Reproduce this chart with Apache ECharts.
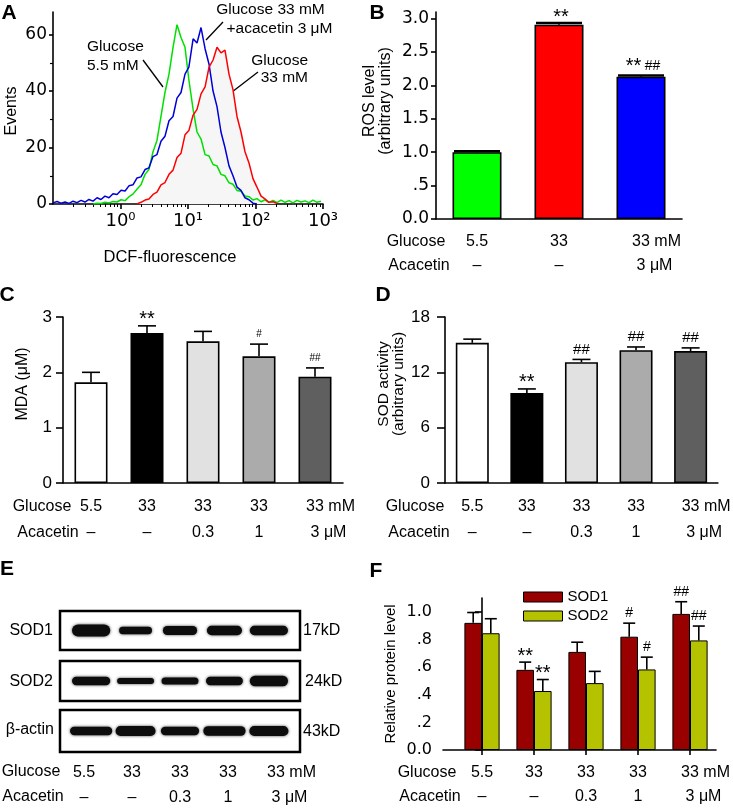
<!DOCTYPE html>
<html>
<head>
<meta charset="utf-8">
<title>Acacetin and high glucose oxidative stress</title>
<script src="https://cdn.jsdelivr.net/npm/echarts@6.0.0/dist/echarts.min.js"></script>
<style>
  html, body { margin: 0; padding: 0; background: #fff; }
  #fig { width: 733px; height: 808px; }
</style>
</head>
<body>
<div id="fig"></div>
<script>
/* ===== A: DCF fluorescence histogram (log channel / events) ===== */
const fluor = [0.1, 0.115, 0.131, 0.151, 0.173, 0.198, 0.227, 0.26, 0.298, 0.341, 0.392, 0.449, 0.514, 0.589,
  0.676, 0.774, 0.887, 1.02, 1.17, 1.34, 1.53, 1.75, 2.01, 2.31, 2.64, 3.03, 3.47, 3.98, 4.56, 5.23, 6.0, 6.87,
  7.88, 9.03, 10.3, 11.9, 13.6, 15.6, 17.9, 20.5, 23.5, 26.9, 30.8, 35.3, 40.5, 46.4, 53.2, 61.0, 69.9, 80.1,
  91.8, 105, 121, 138, 158, 182, 208, 239, 274, 314, 359, 412, 472, 541, 620, 711, 815, 933];
const evGlu55 = [null, null, null, null, null, null, null, null, null, null,
  0, 0.3, 0.2, 0.6, 0.4, 0.9, 0.7, 1.5, 1.2, 2.6, 3.5, 5.2, 6.8, 10.5, 12.2, 18.5, 22.5, 31, 39.5, 46, 55.5,
  63.5, 59, 55.5, 44, 33.5, 25.5, 23, 17.5, 17, 14, 13.5, 10.5, 10, 7.5, 7, 4.8, 4.5, 2.8, 2.6, 1.4, 1.9, 0.8,
  1.5, 0.6, 1.3, 0.5, 1.4, 0.6, 1.2, 0.4, 1.3, 0.7, 1.1, 0.5, 1.4, 0.6, 1.0];
const evAcac = [0.4, 0.9, 0.3, 0.7, 0.2, 1.0, 0.5, 1.3, 0.7, 1.6, 1.0, 2.2, 1.6, 2.8, 2.2, 3.6, 3.4, 4.9, 4.6,
  6.5, 6.8, 9.2, 9.6, 12.2, 12.8, 16.8, 17.5, 22.2, 24, 29.5, 31, 37.5, 39.5, 46, 48.5, 58.5, 57, 62.5, 55,
  49.5, 40, 34.5, 25.5, 20, 13.5, 10, 6, 4.8, 2.2, 1.5, 0.3, 0,
  null, null, null, null, null, null, null, null, null, null, null, null, null, null, null, null];
const evGlu33 = [null, null, null, null, null, null, null, null, null, null, null, null, null, null, null, null,
  null, null, null, null, null,
  0, 0.6, 1.4, 1.8, 3.4, 4.2, 6.8, 7.6, 10.5, 12, 16.5, 18, 24.5, 26, 31.5, 33.5, 39, 41.5, 48.5, 51, 55.5,
  53.5, 54.5, 46, 40.5, 31, 25.5, 18.5, 14.5, 9, 6, 2.8, 1.8, 0.6, 0.8, 0.2,
  null, null, null, null, null, null, null, null, null, null, null];
const decadeTicks = [1, 10, 100, 1000];
const decadeLabels = ['10⁰', '10¹', '10²', '10³'];
const minorTicksA = [0.2, 0.3, 0.4, 0.5, 0.6, 0.7, 0.8, 0.9, 2, 3, 4, 5, 6, 7, 8, 9,
  20, 30, 40, 50, 60, 70, 80, 90, 200, 300, 400, 500, 600, 700, 800, 900];
const eventTicks = [0, 20, 40, 60];
const eventMinor = [10, 30, 50];

/* ===== B: ROS level ===== */
const rosGlucose = ['5.5', '33', '33 mM'];
const rosAcacetin = ['–', '–', '3 μM'];
const ros = [1.0, 2.91, 2.13];
const rosSem = [0.015, 0.025, 0.02];
const rosSig = ['', '**', '** ##'];
const rosTicks = [0, 0.5, 1, 1.5, 2, 2.5, 3];

/* ===== C, D: MDA and SOD activity ===== */
const glucose5 = ['5.5', '33', '33', '33', '33 mM'];
const acacetin5 = ['–', '–', '0.3', '1', '3 μM'];
const mda = [1.82, 2.71, 2.56, 2.29, 1.92];
const mdaSem = [0.18, 0.13, 0.18, 0.22, 0.16];
const mdaSig = ['', '**', '', '#', '##'];
const sodAct = [15.2, 9.75, 13.1, 14.4, 14.3];
const sodActSem = [0.4, 0.45, 0.3, 0.35, 0.35];
const sodActSig = ['', '**', '##', '##', '##'];

/* ===== E: western blot bands (width in lanes, thickness as share of the strip) ===== */
const sod1Width = [0.86, 0.74, 0.77, 0.79, 0.86];
const sod1Thick = [0.31, 0.19, 0.23, 0.24, 0.24];
const sod2Width = [0.86, 0.83, 0.83, 0.83, 0.86];
const sod2Thick = [0.21, 0.15, 0.18, 0.21, 0.26];
const actinWidth = [0.95, 0.9, 0.86, 0.95, 0.88];
const actinThick = [0.2, 0.24, 0.2, 0.23, 0.24];

/* ===== F: relative protein level ===== */
const sod1Rel = [0.92, 0.58, 0.71, 0.82, 0.985];
const sod1Sem = [0.075, 0.056, 0.07, 0.098, 0.088];
const sod1Sig = ['', '**', '', '#', '##'];
const sod2Rel = [0.845, 0.427, 0.484, 0.583, 0.793];
const sod2Sem = [0.105, 0.083, 0.085, 0.089, 0.104];
const sod2Sig = ['', '**', '', '#', '##'];
const relTicks = [0, 0.2, 0.4, 0.6, 0.8, 1.0];
const groupPos = [0, 1, 2, 3, 4];

/* ===== styles ===== */
const FONT = '"Liberation Sans", Arial, sans-serif';
const WIDE = '"DejaVu Sans", sans-serif';
const LINE = { color: '#000', width: 1.6 };
const rosColors = ['#00ff00', '#ff0000', '#0000ff'];
const grays = ['#ffffff', '#000000', '#e1e1e1', '#ababab', '#5f5f5f'];

const chart = echarts.init(document.getElementById('fig'));

const ctx = document.createElement('canvas').getContext('2d');
function textWidth(t, size) {
  ctx.font = size + 'px "Liberation Sans"';
  return ctx.measureText(t).width;
}

// row label: number centred on the tick, unit hanging to the right
function rowLabel(size, margin, pick) {
  return {
    interval: 0, margin, fontSize: size, fontFamily: FONT, color: '#000',
    formatter: (v, i) => {
      const s = pick ? pick(v, i) : String(v);
      const k = s.indexOf(' ');
      if (k < 0) return s;
      const unit = s.slice(k);
      return '{' + (unit.indexOf('μ') >= 0 ? 'u' : 'm') + '|' + s.slice(0, k) + '}' + unit;
    },
    rich: {
      m: { fontSize: size, fontFamily: FONT, color: '#000', padding: [0, 0, 0, textWidth(' mM', size)] },
      u: { fontSize: size, fontFamily: FONT, color: '#000', padding: [0, 0, 0, textWidth(' μM', size)] }
    }
  };
}

function decimalLabel(v) {
  if (v === 0) return '0.0';
  return v < 1 ? String(v).replace(/^0/, '') : v.toFixed(1);
}

function pairs(ys) {
  return fluor.map((f, i) => [f, ys[i]]).filter(p => p[1] !== null);
}

function errorBars(xi, yi, xs, means, sems, sigs, o) {
  return {
    type: 'custom', xAxisIndex: xi, yAxisIndex: yi, z: 5, silent: true,
    data: means.map((m, i) => [xs[i], m, m + sems[i]]),
    renderItem: (params, api) => {
      const base = api.coord([api.value(0), api.value(1)]);
      const top = api.coord([api.value(0), api.value(2)]);
      const x = base[0] + (o.shift || 0);
      const kids = [
        { type: 'line', shape: { x1: x, y1: base[1], x2: x, y2: top[1] }, style: { stroke: '#000', lineWidth: 1.6 } },
        { type: 'line', shape: { x1: x - o.cap / 2, y1: top[1], x2: x + o.cap / 2, y2: top[1] },
          style: { stroke: '#000', lineWidth: o.capLw || 1.6 } }
      ];
      const s = sigs[params.dataIndex];
      if (s) {
        const star = s.indexOf('*') >= 0, hash = s.indexOf('#') >= 0;
        const lift = hash ? (star ? 9 : 10) : 6;
        kids.push({
          type: 'text', x: x + (o.sigShift || 0), y: top[1] - lift,
          style: {
            text: s.replace(/\*+/g, m => '{a|' + m + '}').replace(/#+/g, m => '{h|' + m + '}'),
            rich: { a: { fontSize: 20, fontFamily: FONT, fill: '#000' },
                    h: { fontSize: o.hash, fontFamily: FONT, fill: '#000' } },
            align: 'center', verticalAlign: 'middle', fill: '#000'
          }
        });
      }
      return { type: 'group', children: kids };
    }
  };
}

function blot(xi, yi, widths, thick) {
  return {
    type: 'custom', xAxisIndex: xi, yAxisIndex: yi, silent: true,
    data: widths.map((w, i) => [i, 0.5, w, thick[i]]),
    renderItem: (params, api) => {
      const c = api.coord([api.value(0), api.value(1)]);
      const sz = api.size([api.value(2), api.value(3)]);
      return {
        type: 'rect',
        shape: { x: c[0] - sz[0] / 2, y: c[1] - sz[1] / 2, width: sz[0], height: sz[1], r: sz[1] / 2 },
        style: { fill: '#0d0d0d', shadowBlur: 3, shadowColor: 'rgba(0,0,0,0.75)' }
      };
    }
  };
}

function T(text, x, y, o = {}) {
  return {
    type: 'text', x, y, rotation: o.rot || 0,
    style: {
      text, fontSize: o.size || 16, fontFamily: FONT, fontWeight: o.bold ? 'bold' : 'normal',
      fill: '#000', align: o.align || 'center', verticalAlign: 'middle', lineHeight: o.lh
    }
  };
}
function L(x1, y1, x2, y2) {
  return { type: 'line', shape: { x1, y1, x2, y2 }, style: { stroke: '#000', lineWidth: 1.3 } };
}
const R = Math.PI / 2;
const blotBox = { show: true, borderColor: '#000', borderWidth: 2.5, backgroundColor: '#fff' };
const off = { show: false };

chart.setOption({
  animation: false,
  backgroundColor: '#fff',
  textStyle: { fontFamily: FONT, color: '#000' },
  grid: [
    { left: 53, top: 12, width: 270, height: 192 },                 // A
    { left: 436, top: 12, width: 246, height: 207 },                // B
    { left: 63, top: 317, width: 280, height: 166 },                // C
    { left: 445, top: 317, width: 279, height: 166 },               // D
    Object.assign({ left: 60, top: 611, width: 240, height: 39 }, blotBox),  // E SOD1
    Object.assign({ left: 60, top: 661, width: 240, height: 40 }, blotBox),  // E SOD2
    Object.assign({ left: 60, top: 710, width: 240, height: 42 }, blotBox),  // E actin
    { left: 443, top: 598, width: 276, height: 152 }                // F
  ],
  legend: {
    left: 518, top: 584, orient: 'vertical', icon: 'rect', itemWidth: 39, itemHeight: 10, itemGap: 3,
    selectedMode: false, data: ['SOD1', 'SOD2'],
    itemStyle: { borderColor: '#000', borderWidth: 1 },
    textStyle: { fontSize: 15, lineHeight: 16, fontFamily: FONT, color: '#000' }
  },
  xAxis: [
    { gridIndex: 0, type: 'log', logBase: 10, min: 0.1, max: 1000, axisLine: { lineStyle: LINE },
      axisTick: { length: 5, lineStyle: LINE, customValues: decadeTicks },
      axisLabel: { customValues: decadeTicks, margin: 8, fontSize: 18, fontFamily: WIDE, color: '#000',
        formatter: v => decadeLabels[Math.round(Math.log10(v))] },
      splitLine: off },
    { gridIndex: 0, type: 'log', logBase: 10, min: 0.1, max: 1000, position: 'bottom', axisLine: off,
      axisTick: { length: 3, lineStyle: { color: '#000', width: 1 }, customValues: minorTicksA },
      axisLabel: off, splitLine: off },
    { gridIndex: 1, type: 'category', data: rosGlucose, axisLine: { lineStyle: LINE },
      axisTick: { alignWithLabel: true, length: 5, lineStyle: LINE }, axisLabel: rowLabel(16, 15) },
    { gridIndex: 1, type: 'category', data: rosAcacetin, position: 'bottom', offset: 24, axisLine: off,
      axisTick: off, axisLabel: rowLabel(16, 15) },
    { gridIndex: 2, type: 'category', data: glucose5, axisLine: { lineStyle: LINE },
      axisTick: { alignWithLabel: true, length: 7, lineStyle: LINE }, axisLabel: rowLabel(16, 16) },
    { gridIndex: 2, type: 'category', data: acacetin5, position: 'bottom', offset: 26, axisLine: off,
      axisTick: off, axisLabel: rowLabel(16, 16) },
    { gridIndex: 3, type: 'category', data: glucose5, axisLine: { lineStyle: LINE },
      axisTick: { alignWithLabel: true, length: 7, lineStyle: LINE }, axisLabel: rowLabel(16, 16) },
    { gridIndex: 3, type: 'category', data: acacetin5, position: 'bottom', offset: 26, axisLine: off,
      axisTick: off, axisLabel: rowLabel(16, 16) },
    { gridIndex: 4, type: 'value', min: -0.7, max: 4.7, show: false },
    { gridIndex: 5, type: 'value', min: -0.7, max: 4.7, show: false },
    { gridIndex: 6, type: 'value', min: -0.7, max: 4.7, show: false },
    { gridIndex: 6, type: 'category', data: glucose5, position: 'bottom', axisLine: off, axisTick: off,
      axisLabel: rowLabel(16, 13) },
    { gridIndex: 6, type: 'category', data: acacetin5, position: 'bottom', offset: 25, axisLine: off,
      axisTick: off, axisLabel: rowLabel(16, 13) },
    { gridIndex: 7, type: 'value', min: -0.75, max: 4.5, axisLine: { show: true, lineStyle: LINE },
      axisTick: { show: true, length: 5, lineStyle: LINE, customValues: groupPos },
      axisLabel: Object.assign(rowLabel(16, 15, v => glucose5[v]), { customValues: groupPos }),
      splitLine: off },
    { gridIndex: 7, type: 'value', min: -0.75, max: 4.5, position: 'bottom', offset: 24, axisLine: off,
      axisTick: off, axisLabel: Object.assign(rowLabel(16, 15, v => acacetin5[v]), { customValues: groupPos }),
      splitLine: off }
  ],
  yAxis: [
    { gridIndex: 0, type: 'value', min: 0, max: 68, axisLine: { show: true, lineStyle: LINE },
      axisTick: { show: true, length: 4, lineStyle: LINE, customValues: eventTicks },
      axisLabel: { customValues: eventTicks, margin: 6, fontSize: 17, fontFamily: WIDE, color: '#000' },
      splitLine: off },
    { gridIndex: 0, type: 'value', min: 0, max: 68, position: 'left', axisLine: off,
      axisTick: { show: true, length: 3, lineStyle: { color: '#000', width: 1.2 }, customValues: eventMinor },
      axisLabel: off, splitLine: off },
    { gridIndex: 1, type: 'value', min: 0, max: 3.1, axisLine: { show: true, lineStyle: LINE },
      axisTick: { show: true, length: 5, lineStyle: LINE, customValues: rosTicks },
      axisLabel: { customValues: rosTicks, margin: 7, fontSize: 17, fontFamily: WIDE, color: '#000',
        formatter: decimalLabel },
      splitLine: off },
    { gridIndex: 2, type: 'value', min: 0, max: 3, interval: 1, axisLine: { show: true, lineStyle: LINE },
      axisTick: { show: true, length: 7, lineStyle: LINE },
      axisLabel: { margin: 11, fontSize: 17, color: '#000' }, splitLine: off },
    { gridIndex: 3, type: 'value', min: 0, max: 18, interval: 6, axisLine: { show: true, lineStyle: LINE },
      axisTick: { show: true, length: 8, lineStyle: LINE },
      axisLabel: { margin: 15, fontSize: 17, color: '#000' }, splitLine: off },
    { gridIndex: 4, type: 'value', min: 0, max: 1, show: false },
    { gridIndex: 5, type: 'value', min: 0, max: 1, show: false },
    { gridIndex: 6, type: 'value', min: 0, max: 1, show: false },
    { gridIndex: 7, type: 'value', min: 0, max: 1.1, axisLine: { show: true, lineStyle: LINE },
      axisTick: { show: true, length: 7, lineStyle: LINE, customValues: relTicks },
      axisLabel: { customValues: relTicks, margin: 11, fontSize: 16, fontFamily: WIDE, color: '#000',
        formatter: decimalLabel },
      splitLine: off }
  ],
  series: [
    // A
    { type: 'line', xAxisIndex: 0, yAxisIndex: 0, data: pairs(evGlu33), symbol: 'none', silent: true, z: 1,
      lineStyle: { width: 0 }, areaStyle: { color: '#f6f6f6', opacity: 1 } },
    { type: 'line', xAxisIndex: 0, yAxisIndex: 0, data: pairs(evGlu55), symbol: 'none', z: 3,
      lineStyle: { color: '#00e000', width: 1.5 } },
    { type: 'line', xAxisIndex: 0, yAxisIndex: 0, data: pairs(evAcac), symbol: 'none', z: 3,
      lineStyle: { color: '#0000d8', width: 1.5 } },
    { type: 'line', xAxisIndex: 0, yAxisIndex: 0, data: pairs(evGlu33), symbol: 'none', z: 3,
      lineStyle: { color: '#ff0000', width: 1.5 } },
    // B
    { type: 'bar', xAxisIndex: 2, yAxisIndex: 2, barWidth: 49,
      data: ros.map((v, i) => ({ value: v, itemStyle: { color: rosColors[i] } })),
      itemStyle: { borderColor: '#000', borderWidth: 1.6 } },
    errorBars(2, 2, [0, 1, 2], ros, rosSem, rosSig, { cap: 46, capLw: 2.6, hash: 14, sigShift: 2 }),
    // C
    { type: 'bar', xAxisIndex: 4, yAxisIndex: 3, barWidth: 33,
      data: mda.map((v, i) => ({ value: v, itemStyle: { color: grays[i] } })),
      itemStyle: { borderColor: '#000', borderWidth: 1.6 } },
    errorBars(4, 3, groupPos, mda, mdaSem, mdaSig, { cap: 18, hash: 10 }),
    // D
    { type: 'bar', xAxisIndex: 6, yAxisIndex: 4, barWidth: 33,
      data: sodAct.map((v, i) => ({ value: v, itemStyle: { color: grays[i] } })),
      itemStyle: { borderColor: '#000', borderWidth: 1.6 } },
    errorBars(6, 4, groupPos, sodAct, sodActSem, sodActSig, { cap: 18, hash: 15 }),
    // E
    blot(8, 5, sod1Width, sod1Thick),
    blot(9, 6, sod2Width, sod2Thick),
    blot(10, 7, actinWidth, actinThick),
    // F
    { type: 'bar', name: 'SOD1', xAxisIndex: 13, yAxisIndex: 8, barWidth: 17.6, barGap: '0%',
      data: sod1Rel.map((v, i) => [groupPos[i], v]),
      itemStyle: { color: '#990000', borderColor: '#000', borderWidth: 1 } },
    { type: 'bar', name: 'SOD2', xAxisIndex: 13, yAxisIndex: 8, barWidth: 17.6, barGap: '0%',
      data: sod2Rel.map((v, i) => [groupPos[i], v]),
      itemStyle: { color: '#b5c200', borderColor: '#000', borderWidth: 1 } },
    errorBars(13, 8, groupPos, sod1Rel, sod1Sem, sod1Sig, { shift: -8.8, cap: 12, hash: 14 }),
    errorBars(13, 8, groupPos, sod2Rel, sod2Sem, sod2Sig, { shift: 8.8, cap: 12, hash: 14 })
  ],
  graphic: [
    T('A', 9, 13.5, { size: 21, bold: true }),
    T('B', 377, 13, { size: 21, bold: true }),
    T('C', 7, 295, { size: 21, bold: true }),
    T('D', 383, 295, { size: 21, bold: true }),
    T('E', 7, 569, { size: 21, bold: true }),
    T('F', 376, 571, { size: 21, bold: true }),
    T('Events', 12, 111, { rot: R, size: 16 }),
    T('DCF-fluorescence', 170, 257, { size: 16.5 }),
    T('ROS level\n(arbitrary units)', 378, 101, { rot: R, size: 16, lh: 16 }),
    T('MDA (μM)', 23, 384, { rot: R, size: 16 }),
    T('SOD activity\n(arbitrary units)', 391, 384, { rot: R, size: 15.5, lh: 15 }),
    T('Relative protein level', 391, 674, { rot: R, size: 15 }),
    T('Glucose', 416, 242), T('Acacetin', 419, 266),
    T('Glucose', 42, 507), T('Acacetin', 48, 533),
    T('Glucose', 415, 507), T('Acacetin', 419, 533),
    T('Glucose', 31, 772), T('Acacetin', 33, 797),
    T('Glucose', 427, 773), T('Acacetin', 430, 797),
    T('Glucose\n5.5 mM', 87, 56.5, { align: 'left', lh: 19, size: 15.5 }),
    L(143, 60, 163, 87),
    T('Glucose 33 mM', 270.5, 10, { size: 15.5 }),
    T('+acacetin 3 μM', 279.5, 29, { size: 15.5 }),
    L(223, 22, 206, 40),
    T('Glucose\n33 mM', 308, 69.5, { align: 'right', lh: 17, size: 15.5 }),
    L(258, 72, 232, 92),
    T('SOD1', 53, 631, { align: 'right' }),
    T('SOD2', 53, 682, { align: 'right' }),
    T('β-actin', 54, 730, { align: 'right' }),
    T('17kD', 303, 631, { align: 'left' }),
    T('24kD', 305, 682, { align: 'left' }),
    T('43kD', 303, 732, { align: 'left' })
  ]
});
</script>
</body>
</html>
